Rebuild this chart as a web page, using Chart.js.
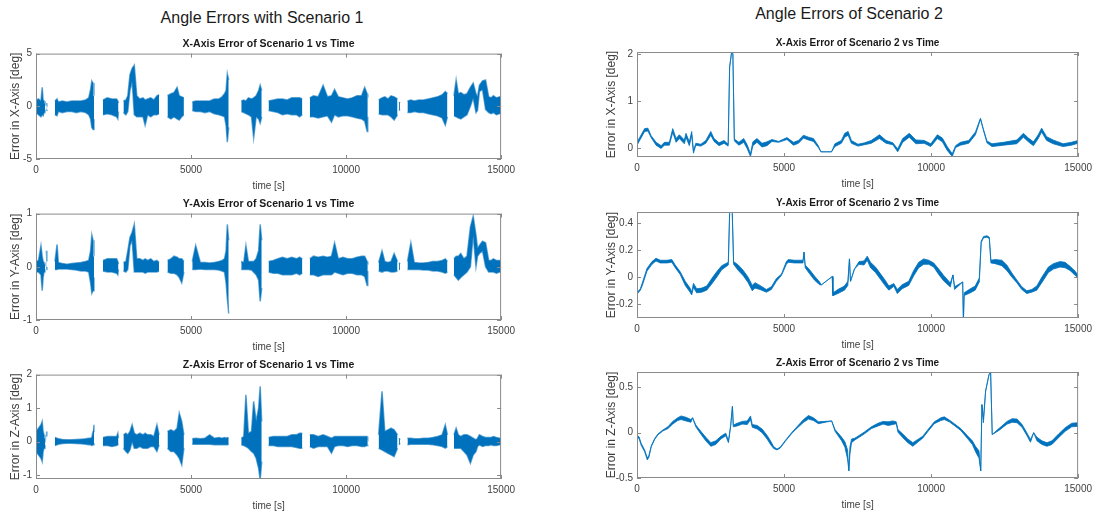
<!DOCTYPE html>
<html>
<head>
<meta charset="utf-8">
<script src="https://cdn.jsdelivr.net/npm/chart.js@4.4.1/dist/chart.umd.min.js"></script>
<style>
  html, body { margin: 0; padding: 0; background: #fff; overflow: hidden; width: 1097px; height: 517px; }
  .head { position: absolute; font-family: "Liberation Sans", Arial, sans-serif; font-size: 16px; color: #1a1a1a; white-space: nowrap; transform: translateX(-50%); }
  .box { position: absolute; }
</style>
</head>
<body>
<div class="head" style="left:262px;top:9px">Angle Errors with Scenario 1</div>
<div class="head" style="left:849px;top:5px">Angle Errors of Scenario 2</div>

<div class="box" style="left:0;top:36px"><canvas id="s1x" width="520" height="160"></canvas></div>
<div class="box" style="left:0;top:196px"><canvas id="s1y" width="520" height="161"></canvas></div>
<div class="box" style="left:0;top:357px"><canvas id="s1z" width="520" height="159"></canvas></div>
<div class="box" style="left:598px;top:35px"><canvas id="s2x" width="499" height="159"></canvas></div>
<div class="box" style="left:598px;top:195px"><canvas id="s2y" width="499" height="160"></canvas></div>
<div class="box" style="left:598px;top:355px"><canvas id="s2z" width="499" height="160"></canvas></div>

<script>
// ---- data: scenario 1 (dense noise, drawn as upper/lower envelope, null = data gap)
const s1Time = [
  0, 80, 160, 200, 230, 260, 290, 310,
  335, 350, 460,
  610, 680, 720, 850, 1000, 1150, 1300, 1450, 1600, 1700, 1760, 1800, 1840, 1870, 2000,
  2160, 2300, 2450, 2600, 2640, 2660, 2740,
  2820, 2900, 2960, 3030, 3100, 3170, 3250, 3350, 3450, 3520, 3600, 3700, 3800, 3900, 3970, 4100,
  4240, 4350, 4450, 4550, 4620, 4700, 4770, 4900,
  5040, 5150, 5300, 5450, 5600, 5750, 5900, 6000, 6080, 6130, 6170, 6215, 6400,
  6620, 6700, 6770, 6850, 6950, 7020, 7100, 7180, 7230, 7280, 7400,
  7500, 7650, 7800, 7950, 8100, 8250, 8400, 8500, 8590, 8700,
  8830, 8950, 9100, 9260, 9400, 9530, 9630, 9750, 9900, 10050, 10200, 10350, 10500, 10600, 10680, 10700, 10900,
  11050, 11160, 11250, 11350, 11450, 11550, 11660, 11690,
  11710, 11740, 11850,
  11980, 12090, 12200, 12350, 12500, 12650, 12800, 12950, 13100, 13200, 13270, 13380,
  13480, 13550, 13620, 13700, 13800, 13900, 14010, 14100, 14190, 14240, 14300, 14400, 14500, 14600, 14680, 14750, 14850, 14950, 15000
];

const s1XHi = [
  0.6, 0.7, 0.5, 1.8, 0.6, 0.5, 0.3, null,
  0.3, 0.2, null,
  0.5, 0.7, 0.4, 0.5, 0.4, 0.5, 0.5, 0.5, 0.6, 0.8, 1.6, 2.4, 2.2, 1.0, null,
  0.6, 0.8, 0.7, 0.7, 0.5, 0.3, null,
  0.5, 0.6, 1.0, 3.0, 3.6, 3.9, 1.0, 0.7, 0.8, 0.6, 0.7, 0.8, 0.6, 1.0, 1.1, null,
  1.0, 1.2, 1.3, 1.8, 1.0, 0.9, 0.8, null,
  0.4, 0.5, 0.5, 0.5, 0.5, 0.7, 0.7, 0.9, 1.2, 1.5, 3.1, 2.5, null,
  0.5, 0.6, 0.5, 0.8, 0.7, 0.8, 1.0, 1.5, 2.0, 1.5, null,
  0.5, 0.6, 0.7, 0.7, 0.6, 0.8, 0.8, 0.8, 0.7, null,
  0.8, 1.0, 0.9, 2.0, 0.9, 1.0, 1.6, 0.9, 0.8, 0.7, 0.8, 1.0, 1.0, 1.8, 1.2, 0.8, null,
  0.6, 0.8, 0.9, 0.7, 1.0, 0.9, 0.7, null,
  0.4, 0.3, null,
  0.5, 0.6, 0.5, 0.6, 0.6, 0.7, 0.8, 0.9, 1.1, 1.4, 1.2, null,
  1.0, 2.5, 1.2, 1.3, 1.1, 1.2, 1.8, 2.2, 1.2, 0.9, 2.0, 2.4, 2.5, 0.9, 0.8, 1.0, 0.8, 0.9, 0.8
];
const s1XLo = [
  -0.6, -0.8, -1.0, -0.8, -0.9, -0.6, -0.3, null,
  -0.4, -0.3, null,
  -0.8, -0.9, -0.5, -0.6, -0.5, -0.5, -0.6, -0.5, -0.6, -0.8, -1.2, -2.0, -2.2, -1.2, null,
  -0.8, -0.7, -0.8, -1.0, -1.2, -0.5, null,
  -0.6, -0.8, -0.5, 1.5, 2.4, -0.8, -1.0, -1.0, -1.0, -1.8, -0.8, -1.0, -0.8, -0.8, -0.7, null,
  -1.0, -1.2, -1.0, -1.2, -1.3, -1.0, -0.8, null,
  -0.4, -0.5, -0.5, -0.6, -0.5, -0.7, -0.8, -0.9, -1.0, -1.8, -3.4, -2.0, null,
  -0.5, -0.6, -0.7, -0.8, -1.0, -3.0, -1.0, -1.2, -1.6, -1.0, null,
  -0.4, -0.5, -0.6, -0.8, -0.7, -0.8, -0.8, -1.0, -0.8, null,
  -1.0, -1.0, -1.1, -1.0, -0.9, -1.5, -0.8, -1.0, -0.9, -0.9, -1.0, -1.1, -1.2, -1.4, -2.4, -1.0, null,
  -0.7, -0.8, -0.8, -0.8, -1.0, -1.3, -0.8, null,
  -0.4, -0.3, null,
  -0.6, -0.6, -0.5, -0.6, -0.6, -0.7, -0.8, -0.9, -1.1, -1.8, -1.0, null,
  -0.9, -1.0, -1.1, -1.2, -1.0, -0.8, 0.0, 0.8, -0.6, -0.4, 1.4, 1.6, -0.3, -0.6, -0.7, -0.6, -0.8, -0.7, -0.6
];

const s1YHi = [
  0.1, 0.12, 0.4, 0.2, 0.1, 0.08, 0.05, null,
  0.3, 0.1, null,
  0.1, 0.42, 0.08, 0.06, 0.05, 0.06, 0.07, 0.08, 0.1, 0.12, 0.3, 0.6, 0.5, 0.2, null,
  0.12, 0.15, 0.15, 0.15, 0.1, 0.05, null,
  0.08, 0.1, 0.3, 0.55, 0.65, 0.8, 0.15, 0.15, 0.12, 0.15, 0.12, 0.15, 0.1, 0.12, 0.08, null,
  0.12, 0.15, 0.2, 0.18, 0.15, 0.15, 0.1, null,
  0.1, 0.4, 0.08, 0.08, 0.07, 0.08, 0.1, 0.12, 0.15, 0.3, 0.8, 0.5, null,
  0.1, 0.08, 0.4, 0.1, 0.1, 0.1, 0.15, 0.3, 0.8, 0.5, null,
  0.1, 0.12, 0.15, 0.18, 0.15, 0.18, 0.15, 0.18, 0.15, null,
  0.15, 0.2, 0.18, 0.2, 0.18, 0.2, 0.45, 0.15, 0.18, 0.15, 0.15, 0.18, 0.2, 0.2, 0.1, 0.08, null,
  0.08, 0.3, 0.1, 0.08, 0.1, 0.25, 0.1, null,
  0.08, 0.05, null,
  0.1, 0.45, 0.08, 0.07, 0.07, 0.08, 0.1, 0.1, 0.12, 0.15, 0.1, null,
  0.15, 0.2, 0.2, 0.25, 0.15, 0.2, 0.75, 0.95, 0.6, 0.35, 0.4, 0.48, 0.45, 0.12, 0.12, 0.15, 0.12, 0.12, 0.1
];
const s1YLo = [
  -0.1, -0.1, -0.15, -0.45, -0.2, -0.1, -0.05, null,
  -0.05, 0, null,
  -0.05, -0.05, -0.04, -0.04, -0.04, -0.05, -0.06, -0.08, -0.08, -0.1, -0.3, -0.5, -0.45, -0.2, null,
  -0.08, -0.1, -0.1, -0.12, -0.15, -0.05, null,
  -0.08, -0.1, -0.05, 0.4, 0.5, -0.1, -0.1, -0.1, -0.1, -0.12, -0.1, -0.1, -0.1, -0.1, -0.08, null,
  -0.1, -0.12, -0.12, -0.15, -0.2, -0.3, -0.1, null,
  -0.05, -0.05, -0.04, -0.05, -0.05, -0.05, -0.06, -0.08, -0.1, -0.3, -0.6, -0.88, null,
  -0.05, -0.05, -0.05, -0.05, -0.06, -0.1, -0.15, -0.25, -0.65, -0.4, null,
  -0.1, -0.12, -0.12, -0.15, -0.15, -0.15, -0.12, -0.15, -0.12, null,
  -0.15, -0.15, -0.18, -0.15, -0.15, -0.15, -0.1, -0.12, -0.15, -0.12, -0.12, -0.15, -0.15, -0.18, -0.35, -0.08, null,
  -0.08, -0.1, -0.08, -0.08, -0.1, -0.1, -0.08, null,
  -0.05, -0.05, null,
  -0.05, -0.05, -0.05, -0.05, -0.06, -0.06, -0.08, -0.08, -0.1, -0.12, -0.1, null,
  -0.15, -0.2, -0.25, -0.2, -0.15, -0.1, 0.0, 0.6, 0.0, 0.2, 0.25, 0.3, 0.0, -0.1, -0.1, -0.1, -0.12, -0.1, -0.1
];

const s1ZHi = [
  0.3, 0.4, 0.5, 0.6, 0.3, 0.2, 0.1, null,
  0.3, 0.15, null,
  0.12, 0.1, 0.08, 0.06, 0.05, 0.05, 0.06, 0.07, 0.08, 0.1, 0.1, 0.12, 0.3, 0.5, null,
  0.12, 0.15, 0.15, 0.15, 0.25, 0.1, null,
  0.2, 0.25, 0.2, 0.3, 0.5, 0.25, 0.2, 0.25, 0.2, 0.25, 0.2, 0.2, 0.15, 0.5, 0.2, null,
  0.3, 0.35, 0.3, 0.4, 0.85, 0.6, 0.2, null,
  0.08, 0.1, 0.08, 0.1, 0.2, 0.1, 0.12, 0.1, 0.12, 0.1, 0.12, 0.1, null,
  0.1, 0.15, 1.4, 0.25, 0.3, 1.2, 0.6, 1.0, 1.65, 0.6, null,
  0.12, 0.15, 0.15, 0.15, 0.15, 0.2, 0.2, 0.25, 0.25, null,
  0.2, 0.2, 0.15, 0.2, 0.15, 0.1, 0.15, 0.15, 0.15, 0.15, 0.15, 0.15, 0.15, 0.15, 0.15, 0.1, null,
  0.2, 1.5, 0.3, 0.35, 0.4, 0.35, 0.2, null,
  0.1, 0.05, null,
  0.1, 0.1, 0.08, 0.08, 0.1, 0.1, 0.12, 0.15, 0.2, 0.5, 0.2, null,
  0.2, 0.4, 0.2, 0.15, 0.2, 0.2, 0.15, 0.1, 0.05, 0.1, 0.2, 0.15, 0.12, 0.12, 0.12, 0.15, 0.12, 0.1, 0.1
];
const s1ZLo = [
  -0.3, -0.4, -0.5, -0.6, -0.3, -0.2, -0.1, null,
  0.0, 0.0, null,
  -0.12, -0.1, -0.08, -0.06, -0.05, -0.05, -0.06, -0.07, -0.08, -0.1, -0.1, -0.12, -0.1, -0.05, null,
  -0.12, -0.12, -0.15, -0.12, -0.1, -0.1, null,
  -0.2, -0.3, -0.35, -0.25, 0.0, -0.2, -0.2, -0.15, -0.2, -0.2, -0.2, -0.15, -0.15, -0.3, -0.1, null,
  -0.2, -0.3, -0.3, -0.4, -0.5, -0.7, -0.2, null,
  -0.08, -0.08, -0.08, -0.08, -0.08, -0.1, -0.1, -0.1, -0.1, -0.1, -0.1, -0.08, null,
  -0.1, -0.12, -0.15, -0.2, -0.3, -0.35, -0.5, -0.8, -1.15, -0.6, null,
  -0.12, -0.12, -0.15, -0.15, -0.15, -0.15, -0.18, -0.2, -0.2, null,
  -0.15, -0.2, -0.15, -0.15, -0.15, -0.35, -0.15, -0.12, -0.12, -0.15, -0.12, -0.12, -0.15, -0.15, -0.12, -0.1, null,
  -0.2, -0.25, -0.3, -0.35, -0.4, -0.45, -0.2, null,
  -0.1, -0.05, null,
  -0.1, -0.08, -0.08, -0.08, -0.08, -0.08, -0.1, -0.12, -0.15, -0.2, -0.15, null,
  -0.2, -0.2, -0.2, -0.2, -0.3, -0.4, -0.65, -0.4, -0.3, -0.15, -0.1, -0.15, -0.12, -0.12, -0.1, -0.12, -0.12, -0.1, -0.1
];

// ---- data: scenario 2 (trace value + local noise half-width)
const s2XTime = [
  0, 90, 260, 370, 480, 650, 820, 930, 1100, 1215,
  1330, 1440, 1610, 1665, 1780, 1860, 1920, 2000, 2170, 2340,
  2510, 2620, 2790, 2960, 3100, 3150, 3220, 3260, 3310, 3465,
  3630, 3745, 3860, 3940, 4080, 4250, 4420, 4590, 4815, 5100,
  5320, 5490, 5660, 5830, 6000, 6165, 6255, 6615, 6730, 6950,
  7065, 7180, 7290, 7515, 7740, 7965, 8245, 8470, 8700, 8865,
  9035, 9260, 9485, 9765, 9990, 10215, 10385, 10550, 10720, 10835,
  11000, 11280, 11510, 11680, 11770, 11900, 12070, 12465, 12915, 13140,
  13310, 13480, 13645, 13760, 13930, 14150, 14490, 14770, 15000
];
const s2XVal = [
  0.1, 0.2, 0.39, 0.4, 0.25, 0.1, 0.03, 0.1, 0.1, 0.38,
  0.17, 0.25, 0.14, 0.28, 0.1, 0.32, -0.07, 0.09, 0.07, 0.14,
  0.32, 0.18, 0.09, 0.14, 0.07, 1.72, 2.05, 2.0, 0.18, 0.1,
  0.17, 0.04, -0.14, 0.1, 0.17, 0.07, 0.1, 0.17, 0.14, 0.21,
  0.1, 0.14, 0.25, 0.21, 0.18, 0.04, -0.07, -0.07, 0.07, 0.14,
  0.28, 0.32, 0.14, 0.07, 0.1, 0.14, 0.25, 0.14, 0.1, -0.04,
  0.17, 0.28, 0.14, 0.14, 0.07, 0.25, 0.18, 0, -0.14, 0.04,
  0.1, 0.14, 0.32, 0.63, 0.42, 0.14, 0.07, 0.1, 0.14, 0.28,
  0.18, 0.1, 0.25, 0.39, 0.21, 0.14, 0.07, 0.1, 0.14
];
const s2XNoise = [
  0.03, 0.03, 0.03, 0.03, 0.02, 0.03, 0.03, 0.03, 0.03, 0.04,
  0.04, 0.04, 0.04, 0.04, 0.04, 0.04, 0.03, 0.02, 0.02, 0.03,
  0.04, 0.03, 0.03, 0.03, 0.02, 0, 0, 0, 0.02, 0.03,
  0.04, 0.04, 0.03, 0.04, 0.04, 0.04, 0.04, 0.02, 0.01, 0.02,
  0.03, 0.03, 0.03, 0.03, 0.03, 0.02, 0, 0, 0.03, 0.03,
  0.04, 0.04, 0.03, 0.02, 0.02, 0.03, 0.04, 0.03, 0.02, 0.03,
  0.04, 0.04, 0.04, 0.03, 0.03, 0.04, 0.04, 0.04, 0.03, 0.02,
  0.03, 0.03, 0.03, 0.01, 0.01, 0.02, 0.03, 0.03, 0.04, 0.04,
  0.04, 0.04, 0.04, 0.04, 0.04, 0.04, 0.03, 0.03, 0.03
];

const s2YTime = [
  0, 113, 190, 340, 510, 645, 790, 1015, 1185, 1300,
  1470, 1640, 1805, 1860, 1920, 2030, 2200, 2370, 2540, 2710,
  2880, 3105, 3150, 3195, 3240, 3285, 3445, 3615, 3780, 3920,
  4010, 4180, 4400, 4570, 4740, 4910, 5080, 5140, 5360, 5645,
  5680, 5720, 5870, 6040, 6210, 6265, 6640, 6660, 6830, 7055,
  7170, 7225, 7260, 7395, 7550, 7720, 7830, 7940, 8110, 8280,
  8450, 8565, 8735, 8850, 9015, 9240, 9410, 9580, 9750, 9920,
  10090, 10260, 10430, 10655, 10745, 10800, 11075, 11100, 11125, 11335,
  11500, 11640, 11705, 11785, 11900, 11980, 12035, 12180, 12405, 12575,
  12745, 12915, 13085, 13255, 13425, 13595, 13765, 13990, 14160, 14385,
  14555, 14725, 14895, 15000
];
const s2YVal = [
  -0.12, -0.09, -0.045, 0.055, 0.105, 0.13, 0.115, 0.115, 0.12, 0.08,
  0.03, -0.045, -0.095, -0.12, -0.06, -0.1, -0.095, -0.08, -0.03, 0.02,
  0.07, 0.1, 0.47, 0.49, 0.47, 0.105, 0.07, 0.03, -0.02, -0.08,
  -0.06, -0.075, -0.1, -0.08, -0.02, 0.017, 0.105, 0.12, 0.115, 0.115,
  0.185, 0.08, 0.04, -0.007, -0.045, -0.057, 0.005, -0.126, -0.105, -0.08,
  -0.045, 0.135, -0.03, 0.06, 0.105, 0.105, 0.14, 0.09, 0.055, 0.005,
  -0.045, -0.08, -0.057, -0.105, -0.07, -0.045, 0.03, 0.09, 0.115, 0.11,
  0.09, 0.04, -0.007, -0.057, 0.017, -0.08, -0.035, -0.32, -0.125, -0.1,
  -0.08, -0.02, 0.26, 0.295, 0.3, 0.29, 0.115, 0.115, 0.105, 0.07,
  0.017, -0.03, -0.08, -0.11, -0.1, -0.08, -0.02, 0.055, 0.08, 0.095,
  0.09, 0.065, 0.03, 0.005
];
const s2YNoise = [
  0.005, 0.005, 0.01, 0.01, 0.01, 0.01, 0.01, 0.01, 0.01, 0.01,
  0.01, 0.015, 0.015, 0.01, 0.015, 0.015, 0.015, 0.015, 0.02, 0.02,
  0.015, 0.01, 0, 0, 0, 0.01, 0.02, 0.02, 0.02, 0.02,
  0.02, 0.015, 0.01, 0.01, 0.01, 0.005, 0.01, 0.01, 0.01, 0.01,
  0, 0.01, 0.015, 0.015, 0.01, 0, 0, 0.01, 0.015, 0.015,
  0.015, 0, 0, 0, 0.01, 0.015, 0.015, 0.02, 0.02, 0.02,
  0.02, 0.015, 0.01, 0.015, 0.015, 0.015, 0.02, 0.02, 0.02, 0.015,
  0.015, 0.02, 0.02, 0.015, 0, 0.01, 0, 0, 0.01, 0.015,
  0.015, 0.015, 0.005, 0.005, 0.005, 0.005, 0.01, 0.015, 0.02, 0.02,
  0.015, 0.01, 0.01, 0.01, 0.01, 0.015, 0.02, 0.02, 0.02, 0.02,
  0.02, 0.015, 0.015, 0.01
];

const s2ZTime = [
  0, 70, 145, 260, 350, 405, 485, 600, 710, 880,
  1050, 1215, 1385, 1500, 1665, 1835, 1890, 2000, 2170, 2340,
  2510, 2680, 2850, 3020, 3110, 3185, 3245, 3275, 3410, 3580,
  3750, 3860, 3920, 4090, 4255, 4425, 4540, 4650, 4760, 4870,
  5045, 5270, 5495, 5665, 5830, 6000, 6170, 6620, 6735, 6960,
  7070, 7160, 7205, 7240, 7295, 7410, 7580, 7745, 7970, 8200,
  8370, 8540, 8700, 8815, 8875, 9040, 9210, 9380, 9545, 9715,
  9885, 10110, 10335, 10450, 10620, 10790, 11010, 11240, 11405, 11520,
  11630, 11690, 11730, 11780, 11855, 11970, 12025, 12080, 12305, 12585,
  12760, 12925, 13095, 13265, 13380, 13490, 13600, 13770, 13940, 14110,
  14335, 14560, 14785, 15000
];
const s2ZVal = [
  -0.04, -0.055, -0.13, -0.2, -0.29, -0.26, -0.15, -0.07, -0.02, 0.025,
  0.055, 0.11, 0.15, 0.165, 0.15, 0.13, 0.165, 0.075, 0, -0.07,
  -0.13, -0.11, -0.055, -0.02, -0.1, 0.075, 0.29, 0.075, 0.09, 0.11,
  0.11, 0.165, 0.075, 0.06, 0.02, -0.05, -0.11, -0.165, -0.185, -0.165,
  -0.09, 0, 0.075, 0.13, 0.17, 0.15, 0.11, 0.13, 0.025, -0.07,
  -0.13, -0.24, -0.42, -0.2, -0.09, -0.07, -0.035, 0, 0.055, 0.09,
  0.11, 0.1, 0.11, 0.11, 0.02, -0.035, -0.09, -0.13, -0.09, -0.05,
  0.02, 0.11, 0.15, 0.16, 0.13, 0.09, 0.035, -0.05, -0.11, -0.185,
  -0.24, -0.42, 0.31, 0.13, 0.46, 0.64, 0.67, -0.02, 0.035, 0.11,
  0.135, 0.13, 0.075, -0.02, -0.09, 0, -0.07, -0.11, -0.13, -0.11,
  -0.035, 0.035, 0.085, 0.09
];
const s2ZNoise = [
  0.01, 0.01, 0.01, 0.01, 0.01, 0.01, 0.005, 0.005, 0.005, 0.005,
  0.01, 0.015, 0.015, 0.02, 0.02, 0.015, 0, 0.01, 0.015, 0.02,
  0.02, 0.02, 0.015, 0.015, 0.01, 0, 0, 0.01, 0.015, 0.015,
  0.02, 0.02, 0.015, 0.02, 0.02, 0.02, 0.02, 0.01, 0.005, 0.005,
  0.005, 0.005, 0.01, 0.015, 0.02, 0.015, 0.01, 0, 0.01, 0.02,
  0.03, 0.05, 0, 0.04, 0.02, 0.01, 0.01, 0.01, 0.01, 0.015,
  0.015, 0.02, 0.02, 0.01, 0.015, 0.02, 0.02, 0.02, 0.015, 0.01,
  0.01, 0.01, 0.015, 0.015, 0.01, 0.01, 0.01, 0.015, 0.02, 0.03,
  0.04, 0, 0, 0.02, 0, 0, 0, 0, 0.01, 0.015,
  0.02, 0.02, 0.015, 0.015, 0.015, 0, 0.02, 0.02, 0.02, 0.02,
  0.02, 0.02, 0.02, 0.02
];

// ---- axes
const timeTicks = [0, 5000, 10000, 15000];
const s1XTicks = [-5, 0, 5];
const s1YTicks = [-1, 0, 1];
const s1ZTicks = [-1, 0, 1, 2];
const s2XTicks = [0, 1, 2];
const s2YTicks = [-0.2, 0, 0.2, 0.4];
const s2ZTicks = [-0.5, 0, 0.5];

const BLUE = "#0072BD";
const FONT = '"Liberation Sans", Arial, Helvetica, sans-serif';
Chart.defaults.font.family = FONT;
Chart.defaults.color = "#404040";

// MATLAB-style box with inward tick marks
const matlabBox = {
    id: "matlabBox",
    afterDatasetsDraw(chart) {
        const { ctx, chartArea: a, scales: { x, y } } = chart;
        ctx.save();
        ctx.strokeStyle = "#8a8a8a";
        ctx.lineWidth = 1;
        ctx.strokeRect(a.left + 0.5, a.top + 0.5, a.width - 1, a.height - 1);
        ctx.beginPath();
        x.ticks.forEach((t) => {
            const px = Math.round(x.getPixelForValue(t.value)) + 0.5;
            ctx.moveTo(px, a.bottom); ctx.lineTo(px, a.bottom - 4);
            ctx.moveTo(px, a.top); ctx.lineTo(px, a.top + 4);
        });
        y.ticks.forEach((t) => {
            const py = Math.round(y.getPixelForValue(t.value)) + 0.5;
            ctx.moveTo(a.left, py); ctx.lineTo(a.left + 4, py);
            ctx.moveTo(a.right, py); ctx.lineTo(a.right - 4, py);
        });
        ctx.stroke();
        ctx.restore();
    },
};

// fill between an upper and a lower line
function band(time, hi, lo, edge, width) {
    const line = { borderColor: edge, borderWidth: width, pointRadius: 0, spanGaps: false, tension: 0 };
    return [
        { ...line, data: time.map((t, i) => ({ x: t, y: hi[i] })), fill: false },
        { ...line, data: time.map((t, i) => ({ x: t, y: lo[i] })), fill: "-1", backgroundColor: BLUE },
    ];
}

function traceBand(time, val, noise) {
    return band(
        time,
        val.map((v, i) => v + noise[i]),
        val.map((v, i) => v - noise[i]),
        BLUE,
        0.8
    );
}

function makeChart(id, datasets, cfg) {
    new Chart(document.getElementById(id), {
        type: "line",
        data: { datasets },
        plugins: [matlabBox],
        options: {
            responsive: false,
            animation: false,
            events: [],
            layout: { padding: { top: 0, right: 16, bottom: 0, left: 0 } },
            plugins: {
                legend: { display: false },
                tooltip: { enabled: false },
                title: {
                    display: true,
                    text: cfg.title,
                    fullSize: false,
                    color: "#1a1a1a",
                    font: { size: cfg.titleSize, weight: "bold" },
                    padding: { top: 2, bottom: 3 },
                },
            },
            scales: {
                x: {
                    type: "linear",
                    min: 0,
                    max: 15000,
                    grid: { display: false, drawTicks: false },
                    border: { display: false },
                    afterBuildTicks: (s) => { s.ticks = timeTicks.map((v) => ({ value: v })); },
                    afterFit: (s) => { s.height = 37; },
                    ticks: { padding: 5, font: { size: 10 }, maxRotation: 0, callback: (v) => String(v) },
                    title: { display: true, text: "time [s]", font: { size: 10 }, padding: { top: 0, bottom: 4 } },
                },
                y: {
                    min: cfg.min,
                    max: cfg.max,
                    grid: { display: false, drawTicks: false },
                    border: { display: false },
                    afterBuildTicks: (s) => { s.ticks = cfg.ticks.map((v) => ({ value: v })); },
                    afterFit: (s) => { s.width = cfg.yWidth; },
                    ticks: { padding: 4, font: { size: 10 }, callback: (v) => String(v) },
                    title: { display: true, text: cfg.ylabel, font: { size: 12 }, padding: { top: cfg.yTitlePad, bottom: 0 } },
                },
            },
        },
    });
}

const S1EDGE = "rgba(0, 114, 189, 0.6)";

makeChart("s1x", band(s1Time, s1XHi, s1XLo, S1EDGE, 1.5), {
    title: "X-Axis Error of Scenario 1 vs Time", titleSize: 10.5, ylabel: "Error in X-Axis [deg]",
    min: -5, max: 5, ticks: s1XTicks, yWidth: 36, yTitlePad: 8,
});
makeChart("s1y", band(s1Time, s1YHi, s1YLo, S1EDGE, 1.5), {
    title: "Y-Axis Error of Scenario 1 vs Time", titleSize: 10.5, ylabel: "Error in Y-Axis [deg]",
    min: -1, max: 1, ticks: s1YTicks, yWidth: 36, yTitlePad: 8,
});
makeChart("s1z", band(s1Time, s1ZHi, s1ZLo, S1EDGE, 1.5), {
    title: "Z-Axis Error of Scenario 1 vs Time", titleSize: 10.5, ylabel: "Error in Z-Axis [deg]",
    min: -1.12, max: 2, ticks: s1ZTicks, yWidth: 36, yTitlePad: 8,
});
makeChart("s2x", traceBand(s2XTime, s2XVal, s2XNoise), {
    title: "X-Axis Error of Scenario 2 vs Time", titleSize: 10, ylabel: "Error in X-Axis [deg]",
    min: -0.18, max: 2.04, ticks: s2XTicks, yWidth: 39, yTitlePad: 6,
});
makeChart("s2y", traceBand(s2YTime, s2YVal, s2YNoise), {
    title: "Y-Axis Error of Scenario 2 vs Time", titleSize: 10, ylabel: "Error in Y-Axis [deg]",
    min: -0.3, max: 0.48, ticks: s2YTicks, yWidth: 39, yTitlePad: 6,
});
makeChart("s2z", traceBand(s2ZTime, s2ZVal, s2ZNoise), {
    title: "Z-Axis Error of Scenario 2 vs Time", titleSize: 10, ylabel: "Error in Z-Axis [deg]",
    min: -0.5, max: 0.67, ticks: s2ZTicks, yWidth: 39, yTitlePad: 6,
});
</script>
</body>
</html>
